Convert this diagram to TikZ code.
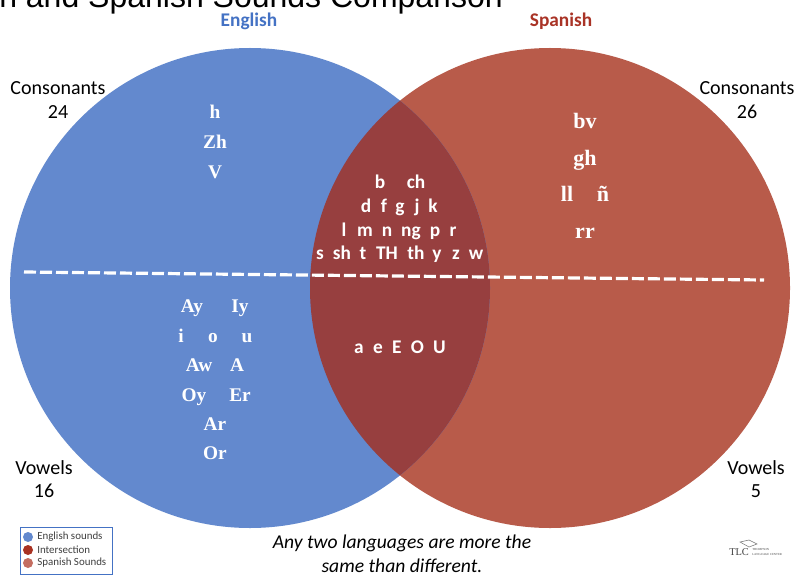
\documentclass[tikz,border=0pt]{standalone}
\usepackage{fontspec}
\setmainfont{Carlito}
\newfontfamily\arialf{Liberation Sans}
\newfontfamily\seriff{Liberation Serif}
\definecolor{engblue}{HTML}{6389CE}
\definecolor{spared}{HTML}{B85B4A}
\definecolor{midred}{HTML}{973F3F}
\definecolor{engtitle}{HTML}{4472C4}
\definecolor{spatitle}{HTML}{A93326}
\definecolor{legmid}{HTML}{A93223}
\definecolor{legspa}{HTML}{C46D60}
\tikzset{
  x=0.75pt,y=-0.75pt,
  snd/.style={text=white,font=\seriff\bfseries\fontsize{14.5}{14.5}\selectfont,inner sep=0pt,anchor=base},
  sndbig/.style={text=white,font=\seriff\bfseries\fontsize{16.5}{16.5}\selectfont,inner sep=0pt,anchor=base},
  mid/.style={text=white,font=\bfseries\fontsize{14.5}{14.5}\selectfont,inner sep=0pt,anchor=base},
  count/.style={text=black,font=\fontsize{15}{17.5}\selectfont,align=center,inner sep=0pt},
  head/.style={font=\bfseries\fontsize{14.5}{14.5}\selectfont,inner sep=0pt,anchor=base},
  leg/.style={font=\fontsize{8.2}{8.2}\selectfont,text=black!75,anchor=west,inner sep=0pt},
  legdot/.style={circle,minimum size=7.5pt,inner sep=0pt},
  divider/.style={white,line width=2.4pt,dash pattern=on 9pt off 3pt},
  note/.style={font=\itshape\fontsize{14.7}{18}\selectfont,align=center,inner sep=0pt}
}
\begin{document}
\begin{tikzpicture}
\useasboundingbox (0,0) rectangle (795,574);
\clip (0,0) rectangle (795,574);
\fill[white] (0,0) rectangle (795,574);
% circles
\fill[spared] (550,288) circle[radius=240*0.75pt];
\fill[engblue] (250,288) circle[radius=240*0.75pt];
\begin{scope}
\clip (250,288) circle[radius=240*0.75pt];
\fill[midred] (550,288) circle[radius=240*0.75pt];
\end{scope}
% dividers
\coordinate (dl) at (24,272);
\coordinate (dr) at (764,280);
\draw[divider] (dl) -- (dr);
% title
\node[anchor=base east,inner sep=0pt,font=\arialf\fontsize{24}{24}\selectfont] (title) at (503,8) {h and Spanish Sounds Comparison};
\node[head,text=engtitle] (en) at (249,27) {English};
\node[head,text=spatitle] (es) at (561,27) {Spanish};
% counts
\node[count] (c1) at (58,100) {Consonants\\24};
\node[count] (c2) at (747,100) {Consonants\\26};
\node[count] (v1) at (44,479) {Vowels\\16};
\node[count] (v2) at (756,479) {Vowels\\5};
% english consonants
\node[snd] (e1) at (215,119) {h};
\node[snd] (e2) at (215,149) {Zh};
\node[snd] (e3) at (215,178) {V};
% english vowels
\node[snd] (ev1) at (192,312) {Ay};
\node[snd] (ev2) at (240,312) {Iy};
\node[snd] (ev3) at (181,342) {i};
\node[snd] (ev4) at (213,342) {o};
\node[snd] (ev5) at (247,342) {u};
\node[snd] (ev6) at (199,371) {Aw};
\node[snd] (ev7) at (237,371) {A};
\node[snd] (ev8) at (194,401) {Oy};
\node[snd] (ev9) at (240,401) {Er};
\node[snd] (ev10) at (215,430) {Ar};
\node[snd] (ev11) at (215,459) {Or};
% spanish
\node[sndbig] (s1) at (585,129) {bv};
\node[sndbig] (s2) at (585,166) {gh};
\node[sndbig] (s3) at (567,201) {ll};
\node[sndbig] (s4) at (603,201) {ñ};
\node[sndbig] (s5) at (585,238) {rr};
% intersection
\node[mid] (m1) at (380,188) {b};
\node[mid] (m2) at (416,188) {ch};
\foreach \t/\px in {d/366,f/384,g/400,j/417,k/433}
  \node[mid] (mb\t) at (\px,212) {\t};
\foreach \t/\px in {l/344,m/365,n/387,ng/411,p/435,r/453}
  \node[mid] (mc\t) at (\px,236) {\t};
\foreach \t/\px in {s/320,sh/342,t/363,TH/387,th/416,y/437,z/456,w/476}
  \node[mid] (md\t) at (\px,259) {\t};
\node[mid] (vow) at (400,353) {a\hspace{7pt}e\hspace{7pt}E\hspace{7pt}O\hspace{7pt}U};
% note
\node[note] (note) at (402,554) {Any two languages are more the\\same than different.};
% legend
\draw[engtitle,line width=0.6pt] (20,527) rectangle (112,574);
\node[legdot,fill=engblue] (d1) at (28,537) {};
\node[legdot,fill=legmid] (d2) at (28,550) {};
\node[legdot,fill=legspa] (d3) at (28,563) {};
\node[leg] (l1) at (37,537) {English sounds};
\node[leg] (l2) at (37,550) {Intersection};
\node[leg] (l3) at (37,563) {Spanish Sounds};
% logo
\node[inner sep=0pt,font=\seriff\fontsize{7.8}{7.8}\selectfont,text=black!75,anchor=west] (tlc) at (729,552) {TLC};
\node[inner sep=0pt,font=\seriff\fontsize{2.3}{3.2}\selectfont,text=black!70,anchor=west,align=left] (tlc2) at (752,552) {THOMPSON\\LANGUAGE CENTER};
\draw[black!55,line width=0.4pt] (740,542) -- (749,540) -- (757,544) -- (749,547) -- cycle;
\end{tikzpicture}
\end{document}
